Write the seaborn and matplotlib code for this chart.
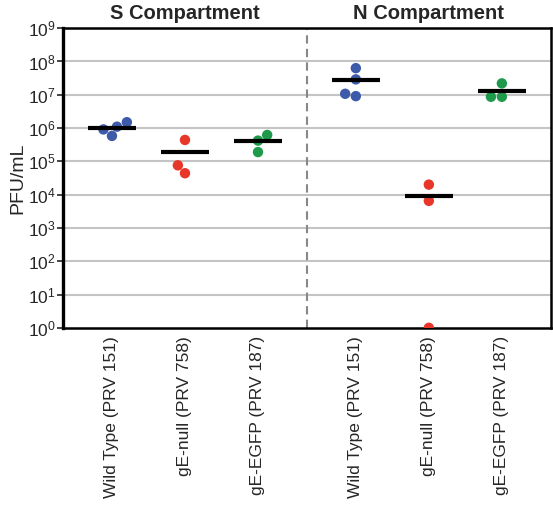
import matplotlib
matplotlib.use("Agg")
import matplotlib.pyplot as plt
import numpy as np
import pandas as pd
import seaborn as sns

# PFU/mL
strains = ["Wild Type (PRV 151)", "gE-null (PRV 758)", "gE-EGFP (PRV 187)"]
compartments = ["S Compartment", "N Compartment"]

s_wild = [1.1e6, 5.8e5, 9.1e5, 1.5e6]
s_null = [4.4e5, 7.6e4, 4.4e4]
s_egfp = [6.2e5, 4.2e5, 1.9e5]
n_wild = [6.3e7, 2.9e7, 9.1e6, 1.07e7]
n_null = [2.0e4, 6.5e3, 1.0]
n_egfp = [2.2e7, 8.7e6, 8.7e6]

colors = {"Wild Type (PRV 151)": "#3d5ba9",
          "gE-null (PRV 758)": "#e8362b",
          "gE-EGFP (PRV 187)": "#1f9a4a"}

# x position of each group (a gap between the two compartments)
group_pos = [0, 1, 2, 3.34, 4.34, 5.34]
groups = [("S Compartment", strains[0], s_wild),
          ("S Compartment", strains[1], s_null),
          ("S Compartment", strains[2], s_egfp),
          ("N Compartment", strains[0], n_wild),
          ("N Compartment", strains[1], n_null),
          ("N Compartment", strains[2], n_egfp)]

rows = []
for pos, (comp, strain, vals) in zip(group_pos, groups):
    for v in vals:
        rows.append({"pos": pos, "compartment": comp, "strain": strain, "pfu": v})
df = pd.DataFrame(rows)

sns.set_style("ticks")
plt.rcParams["font.family"] = ["Liberation Sans", "DejaVu Sans"]

fig = plt.figure(figsize=(5.53, 5.22), dpi=100)
ax = fig.add_axes([0.114, 0.372, 0.882, 0.574])

ax.set_yscale("log")
ax.set_ylim(1, 1e9)
ax.set_xlim(-0.67, 6.01)

for k in range(1, 9):
    ax.axhline(10 ** k, color="#c4c4c4", lw=1.5, zorder=0)
ax.axvline(2.67, color="#888888", lw=1.5, ls=(0, (4, 2.5)), zorder=1)

sns.swarmplot(data=df, x="pos", y="pfu", hue="strain", palette=colors,
              native_scale=True, size=7.5, linewidth=0, legend=False,
              ax=ax, zorder=3)

means = df.groupby("pos")["pfu"].mean()
ax.hlines(means.values, means.index - 0.33, means.index + 0.33,
          color="black", lw=3, zorder=4)

ax.set_xticks(group_pos)
ax.set_xticklabels([g[1] for g in groups], rotation=90, fontsize=12.5,
                   va="top")
ax.tick_params(axis="x", length=0, pad=6)
ax.set_xlabel("")

ax.set_yticks([10 ** k for k in range(0, 10)])
ax.yaxis.set_minor_locator(matplotlib.ticker.NullLocator())
ax.tick_params(axis="y", labelsize=12.5, length=4, width=1.2, pad=1)
ax.set_ylabel("PFU/mL", fontsize=14, labelpad=1)

for s in ax.spines.values():
    s.set_visible(True)
    s.set_linewidth(1.8)
    s.set_color("black")
ax.spines["left"].set_linewidth(2.4)

ax.text(1, 1.018, compartments[0], transform=ax.get_xaxis_transform(),
        ha="center", va="bottom", fontsize=14.5, fontweight="bold")
ax.text(4.34, 1.018, compartments[1], transform=ax.get_xaxis_transform(),
        ha="center", va="bottom", fontsize=14.5, fontweight="bold")

fig.savefig("out.png", dpi=100)
